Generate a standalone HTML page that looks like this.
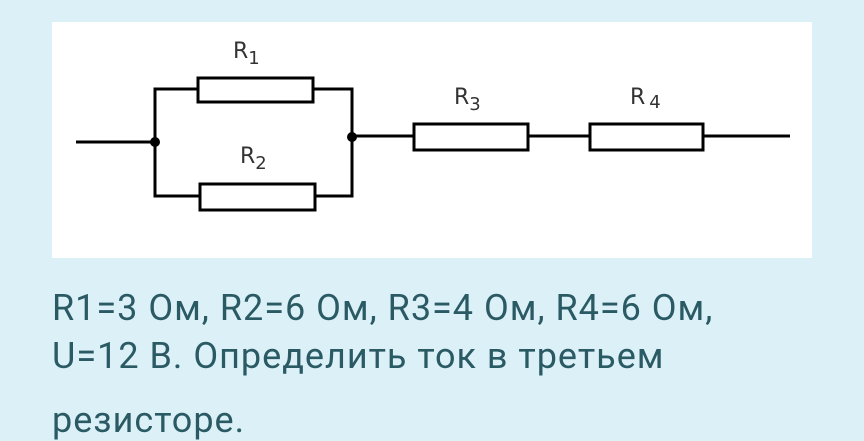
<!DOCTYPE html>
<html><head><meta charset="utf-8"><style>
html,body{margin:0;padding:0;width:864px;height:417px;overflow:hidden;background:#dcf0f7;}
.t{position:absolute;left:52px;font-family:"Roboto","Liberation Sans",sans-serif;font-size:36px;line-height:1;letter-spacing:1px;color:#2a5a64;white-space:nowrap;}
</style></head><body>
<svg width="864" height="417" style="position:absolute;left:0;top:0">
<rect x="52" y="22" width="760" height="236" fill="#fff"/>
<g stroke="#000" stroke-width="3" fill="none">
<line x1="76" y1="142" x2="155" y2="142"/>
<polyline points="197,89 155,89 155,196 199,196"/>
<polyline points="313,89 352,89 352,196 315,196"/>
<rect x="198" y="78" width="115" height="24" fill="#fff"/>
<rect x="200" y="184" width="115" height="26" fill="#fff"/>
<line x1="352" y1="136" x2="413" y2="136"/>
<rect x="414" y="124" width="114" height="26" fill="#fff"/>
<line x1="528" y1="136" x2="589" y2="136"/>
<rect x="590" y="124" width="113" height="26" fill="#fff"/>
<line x1="703" y1="136" x2="790" y2="136"/>
</g>
<circle cx="155" cy="142" r="5" fill="#000"/>
<circle cx="352" cy="137" r="5" fill="#000"/>
<g font-family="DejaVu Sans,Liberation Sans,sans-serif" fill="#333" font-size="22">
<text x="233" y="58">R<tspan font-size="18" dy="6">1</tspan></text>
<text x="240" y="163">R<tspan font-size="18" dy="6">2</tspan></text>
<text x="454" y="104">R<tspan font-size="18" dy="6">3</tspan></text>
<text x="630" y="104">R<tspan font-size="18" dy="4" dx="4">4</tspan></text>
</g>
</svg>
<div class="t" style="top:290px">R1=3 Ом, R2=6 Ом, R3=4 Ом, R4=6 Ом,</div>
<div class="t" style="top:338px">U=12 В. Определить ток в третьем</div>
<div class="t" style="top:402px">резисторе.</div>
</body></html>
